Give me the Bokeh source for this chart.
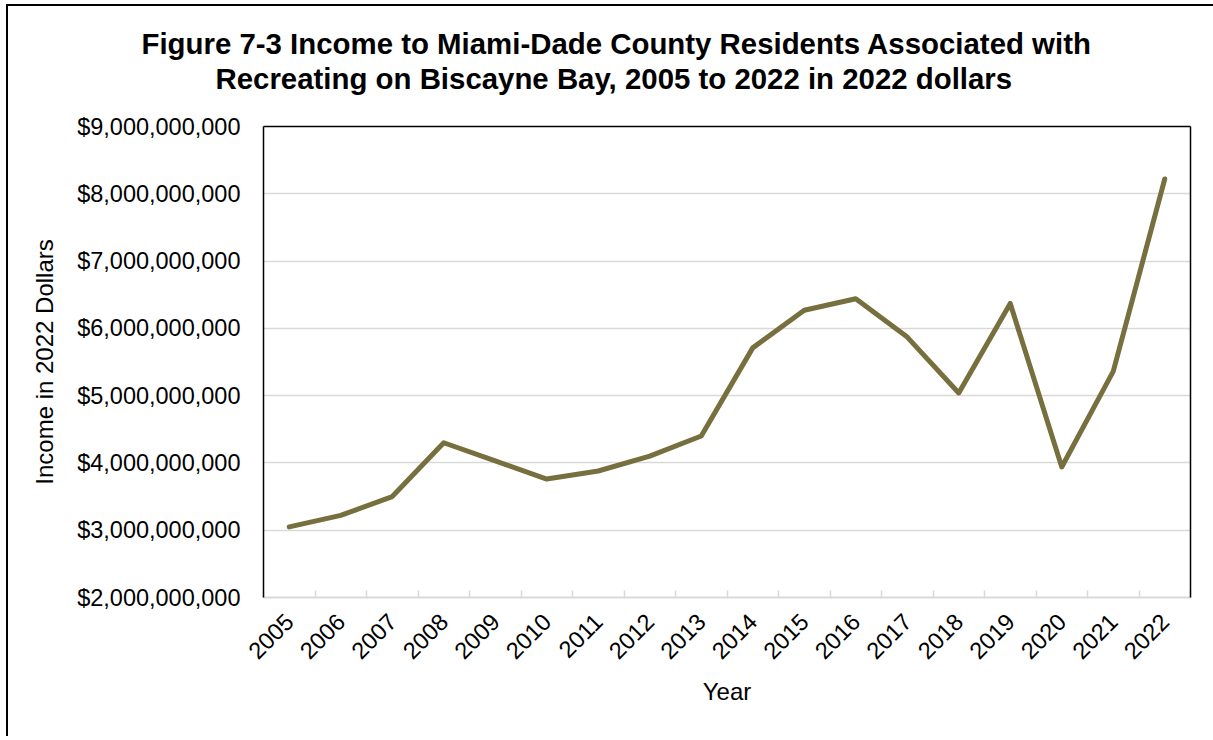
from bokeh.plotting import figure
from bokeh.models import (FixedTicker, NumeralTickFormatter, CustomJSTickFormatter,
                          LinearAxis, Title, Range1d)
from bokeh.embed import file_html
from bokeh.resources import INLINE

# ---- data ----
years = ["2005", "2006", "2007", "2008", "2009", "2010", "2011", "2012", "2013",
         "2014", "2015", "2016", "2017", "2018", "2019", "2020", "2021", "2022"]
income = [3.05e9, 3.22e9, 3.50e9, 4.30e9, 4.03e9, 3.76e9, 3.88e9, 4.10e9, 4.40e9,
          5.71e9, 6.27e9, 6.44e9, 5.87e9, 5.04e9, 6.37e9, 3.94e9, 5.36e9, 8.22e9]
y_ticks = [2e9, 3e9, 4e9, 5e9, 6e9, 7e9, 8e9, 9e9]
title_lines = ["Figure 7-3 Income to Miami-Dade County Residents Associated with",
               "Recreating on Biscayne Bay, 2005 to 2022 in 2022 dollars"]
y_label = "Income in 2022 Dollars"
x_label = "Year"

FONT = "Liberation Sans"
LINE_COLOR = "#776F3E"
GRID_COLOR = "#D9D9D9"

n = len(years)
xs = [i + 0.5 for i in range(n)]

p = figure(width=1210, height=732, output_backend="svg", toolbar_location=None,
           x_range=Range1d(0, n), y_range=Range1d(y_ticks[0], y_ticks[-1]),
           min_border_left=255, min_border_right=28, min_border_top=120,
           min_border_bottom=141, outline_line_color=None,
           background_fill_color="white", border_fill_color="white")
p.styles = {"margin-left": "8px", "margin-top": "6px",
            "box-shadow": "-2px -2px 0px 0px black"}

p.line(xs, income, line_color=LINE_COLOR, line_width=5,
       line_join="round", line_cap="round")

# x axis
xa = p.xaxis[0]
xa.ticker = FixedTicker(ticks=xs, minor_ticks=list(range(n + 1)))
xa.formatter = CustomJSTickFormatter(args=dict(labels=years),
                                     code="return labels[Math.floor(tick)];")
xa.major_label_orientation = 0.7853981633974483
xa.major_tick_line_color = None
xa.minor_tick_in = 7
xa.minor_tick_out = 0
xa.minor_tick_line_color = GRID_COLOR
xa.minor_tick_line_width = 1.5
xa.axis_line_color = GRID_COLOR
xa.axis_line_width = 2
xa.major_label_text_font = FONT
xa.major_label_text_font_size = "23.5px"
xa.major_label_text_color = "black"
xa.major_label_standoff = 14
xa.axis_label = x_label
xa.axis_label_text_font = FONT
xa.axis_label_text_font_size = "24px"
xa.axis_label_text_font_style = "normal"
xa.axis_label_text_color = "black"
xa.axis_label_standoff = 9

# y axis
ya = p.yaxis[0]
ya.ticker = FixedTicker(ticks=y_ticks)
ya.formatter = NumeralTickFormatter(format="$0,0")
ya.major_tick_line_color = None
ya.minor_tick_line_color = None
ya.axis_line_color = "black"
ya.axis_line_width = 1.5
ya.major_label_text_font = FONT
ya.major_label_text_font_size = "23.5px"
ya.major_label_text_color = "black"
ya.major_label_standoff = 17
ya.axis_label = y_label
ya.axis_label_text_font = FONT
ya.axis_label_text_font_size = "24px"
ya.axis_label_text_font_style = "normal"
ya.axis_label_text_color = "black"
ya.axis_label_standoff = 16

p.xgrid.visible = False
p.ygrid.ticker = FixedTicker(ticks=y_ticks)
p.ygrid.grid_line_color = GRID_COLOR
p.ygrid.grid_line_width = 1.5

# frame top and right borders
top_ax = LinearAxis(ticker=FixedTicker(ticks=[]), axis_line_color="black",
                    axis_line_width=1.5, major_tick_line_color=None,
                    minor_tick_line_color=None)
right_ax = LinearAxis(ticker=FixedTicker(ticks=[]), axis_line_color="black",
                      axis_line_width=1.5, major_tick_line_color=None,
                      minor_tick_line_color=None)
p.add_layout(top_ax, "above")
p.add_layout(right_ax, "right")

# spacer between frame and title
p.add_layout(Title(text=" ", text_font_size="20px", standoff=8), "above")
# title (two lines)
p.add_layout(Title(text=title_lines[1], align="left", offset=-48,
                   text_font=FONT, text_font_style="bold", text_font_size="29.4px",
                   text_color="black", standoff=0), "above")
p.add_layout(Title(text=title_lines[0], align="left", offset=-122,
                   text_font=FONT, text_font_style="bold", text_font_size="29.4px",
                   text_color="black", standoff=0), "above")

open("out.html", "w").write(file_html(p, INLINE))
